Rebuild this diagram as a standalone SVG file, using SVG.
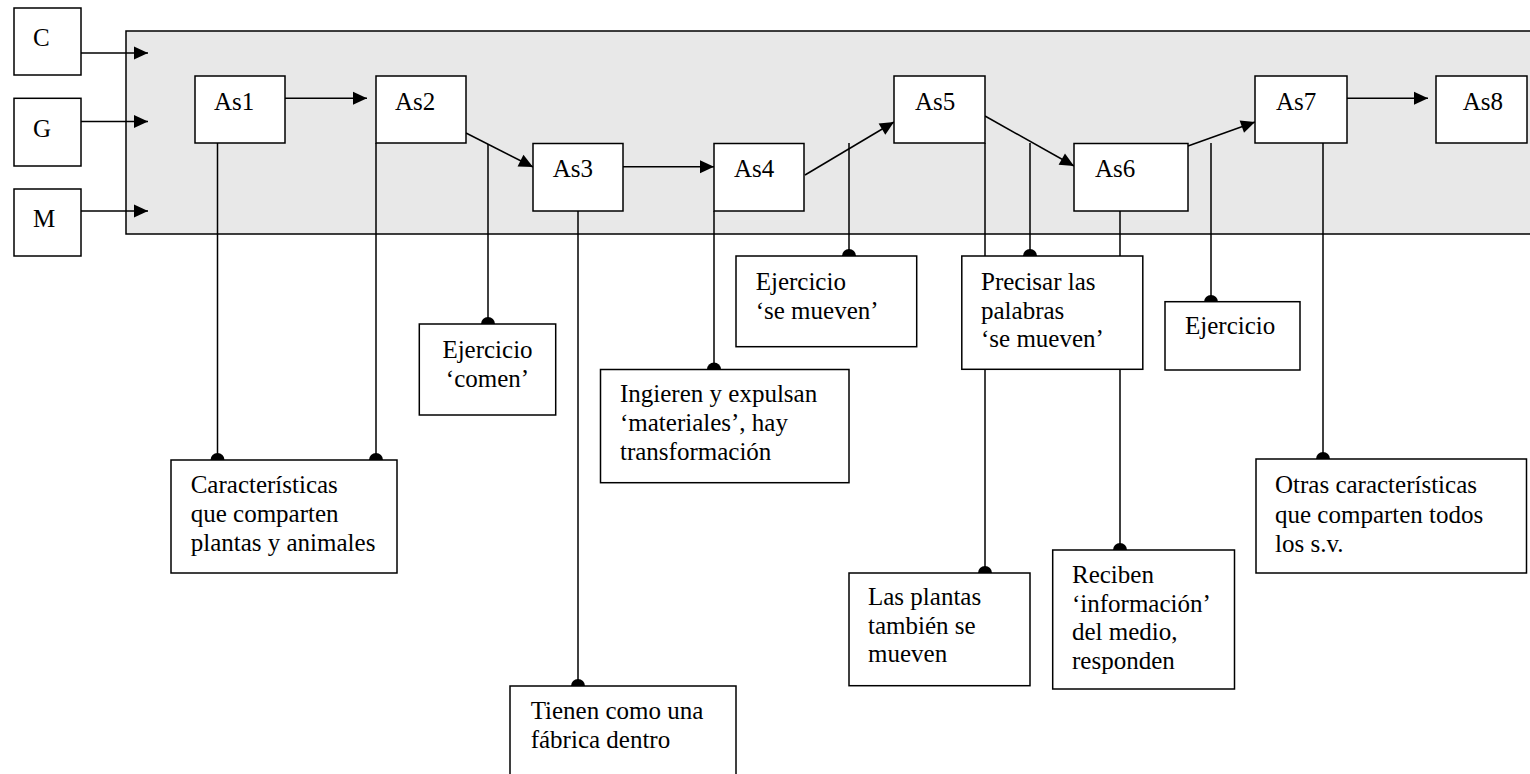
<svg xmlns="http://www.w3.org/2000/svg" width="1530" height="774" viewBox="0 0 1530 774">
<defs>
<style>
.box{fill:#fff;stroke:#000;stroke-width:1.5}
.frame{fill:#e8e8e8;stroke:#000;stroke-width:1.5}
.ln{fill:none;stroke:#000;stroke-width:1.5}
.arr{marker-end:url(#ah)}
.dt{marker-end:url(#dot)}
text{font-family:"Liberation Serif","Times New Roman",serif;font-size:25px;fill:#000}
</style>
<marker id="ah" markerUnits="userSpaceOnUse" markerWidth="15" markerHeight="14" refX="14" refY="6.5" orient="auto" overflow="visible">
<path d="M0,0 L14,6.5 L0,13 z" fill="#000"/>
</marker>
<marker id="dot" markerUnits="userSpaceOnUse" markerWidth="16" markerHeight="16" refX="8" refY="8" orient="auto" overflow="visible">
<circle cx="8" cy="8" r="7" fill="#000"/>
</marker>
</defs>
<rect width="1530" height="774" fill="#fff"/>
<g id="frame">
<rect class="frame" x="126" y="31" width="1420" height="203"/>
</g>
<g id="connectors">
<path class="ln arr" d="M81,53 H148"/>
<path class="ln arr" d="M81,121.5 H148"/>
<path class="ln arr" d="M81,211 H148"/>
<path class="ln arr" d="M285,98.3 H367"/>
<path class="ln arr" d="M466,133 L533,167"/>
<path class="ln arr" d="M623,166.7 H714"/>
<path class="ln arr" d="M805,175 L894,122"/>
<path class="ln arr" d="M985,116 L1074,166"/>
<path class="ln arr" d="M1188,146 L1255,122"/>
<path class="ln arr" d="M1347,98.3 H1428"/>
<path class="ln dt" d="M217.5,143 V460"/>
<path class="ln dt" d="M376,143 V460"/>
<path class="ln dt" d="M488,144 V324"/>
<path class="ln dt" d="M578,211 V686"/>
<path class="ln dt" d="M714,211 V369.5"/>
<path class="ln dt" d="M849,143 V256"/>
<path class="ln dt" d="M985,143 V573"/>
<path class="ln dt" d="M1030,143 V256"/>
<path class="ln dt" d="M1120,211 V550"/>
<path class="ln dt" d="M1211,143 V302"/>
<path class="ln dt" d="M1323,143 V459"/>
</g>
<g id="C"><rect class="box" x="14" y="8" width="67" height="67"/><text x="33" y="45.7">C</text></g>
<g id="G"><rect class="box" x="14" y="98.3" width="67" height="67.7"/><text x="33" y="136.7">G</text></g>
<g id="M"><rect class="box" x="14" y="189" width="67" height="67"/><text x="33" y="226.7">M</text></g>
<g id="As1"><rect class="box" x="195" y="76" width="90" height="67"/><text x="214" y="110">As1</text></g>
<g id="As2"><rect class="box" x="376" y="76" width="90" height="67"/><text x="395" y="110">As2</text></g>
<g id="As3"><rect class="box" x="533" y="143.5" width="90" height="67.5"/><text x="552.7" y="176.7">As3</text></g>
<g id="As4"><rect class="box" x="714" y="143.5" width="90" height="67.5"/><text x="734" y="176.7">As4</text></g>
<g id="As5"><rect class="box" x="894" y="76" width="91" height="67"/><text x="915" y="110">As5</text></g>
<g id="As6"><rect class="box" x="1074" y="143.5" width="114" height="67.5"/><text x="1095" y="176.7">As6</text></g>
<g id="As7"><rect class="box" x="1255" y="76" width="92" height="67"/><text x="1276" y="110">As7</text></g>
<g id="As8"><rect class="box" x="1436" y="76" width="91" height="67"/><text x="1462.7" y="110">As8</text></g>
<g id="caracteristicas"><rect class="box" x="171" y="460" width="226" height="113"/>
<text x="190.7" y="492.7">Características</text><text x="190.7" y="521.7">que comparten</text><text x="190.7" y="551">plantas y animales</text></g>
<g id="ejercicio-comen"><rect class="box" x="419.3" y="324" width="136.4" height="91"/>
<text x="487.5" y="358" text-anchor="middle">Ejercicio</text><text x="487.5" y="387" text-anchor="middle">‘comen’</text></g>
<g id="tienen"><rect class="box" x="510" y="686" width="226" height="100"/>
<text x="530.7" y="719">Tienen como una</text><text x="530.7" y="748.3">fábrica dentro</text></g>
<g id="ingieren"><rect class="box" x="600.5" y="369.5" width="248.5" height="113.2"/>
<text x="620" y="401.7">Ingieren y expulsan</text><text x="620" y="430.7">‘materiales’, hay</text><text x="620" y="460">transformación</text></g>
<g id="ejercicio-se-mueven"><rect class="box" x="736" y="256" width="180.7" height="90.7"/>
<text x="755.7" y="290">Ejercicio</text><text x="755.7" y="319">‘se mueven’</text></g>
<g id="precisar"><rect class="box" x="961.8" y="256" width="181" height="113.3"/>
<text x="981" y="290">Precisar las</text><text x="981" y="318.5">palabras</text><text x="981" y="347.3">‘se mueven’</text></g>
<g id="ejercicio"><rect class="box" x="1165" y="301.7" width="135" height="68.3"/>
<text x="1185" y="334.3">Ejercicio</text></g>
<g id="las-plantas"><rect class="box" x="849" y="573" width="181" height="112.7"/>
<text x="868" y="605">Las plantas</text><text x="868" y="633.5">también se</text><text x="868" y="662">mueven</text></g>
<g id="reciben"><rect class="box" x="1052.7" y="550" width="181.8" height="139"/>
<text x="1072" y="583">Reciben</text><text x="1072" y="611.5">‘información’</text><text x="1072" y="640">del medio,</text><text x="1072" y="668.5">responden</text></g>
<g id="otras"><rect class="box" x="1256" y="459" width="270.5" height="114"/>
<text x="1275" y="493">Otras características</text><text x="1275" y="522.5">que comparten todos</text><text x="1275" y="552">los s.v.</text></g>
</svg>
